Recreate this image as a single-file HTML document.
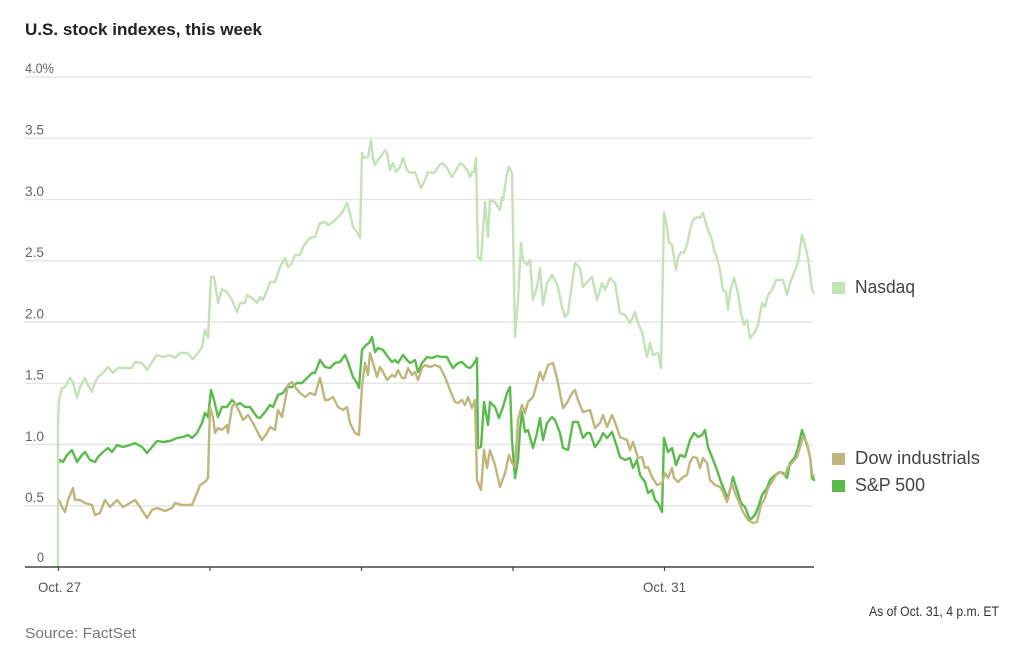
<!DOCTYPE html>
<html>
<head>
<meta charset="utf-8">
<style>
html,body{margin:0;padding:0;background:#fff;}
svg{display:block;}
text{font-family:"Liberation Sans",sans-serif;}
</style>
</head>
<body>
<svg width="1028" height="655" viewBox="0 0 1028 655" xmlns="http://www.w3.org/2000/svg">
<rect width="1028" height="655" fill="#fff"/>
<text x="25" y="35" font-size="17" font-weight="bold" fill="#222" textLength="237" lengthAdjust="spacingAndGlyphs">U.S. stock indexes, this week</text>

<g stroke="#e6e6e6" stroke-width="1.5">
<line x1="25" y1="77" x2="813" y2="77"/>
<line x1="25" y1="138.25" x2="813" y2="138.25"/>
<line x1="25" y1="199.5" x2="813" y2="199.5"/>
<line x1="25" y1="260.75" x2="813" y2="260.75"/>
<line x1="25" y1="322" x2="813" y2="322"/>
<line x1="25" y1="383.25" x2="813" y2="383.25"/>
<line x1="25" y1="444.5" x2="813" y2="444.5"/>
<line x1="25" y1="505.75" x2="813" y2="505.75"/>
</g>

<g font-size="14" fill="#666">
<text x="25" y="73" textLength="29" lengthAdjust="spacingAndGlyphs">4.0%</text>
<text x="25" y="134.5" textLength="19" lengthAdjust="spacingAndGlyphs">3.5</text>
<text x="25" y="196" textLength="19" lengthAdjust="spacingAndGlyphs">3.0</text>
<text x="25" y="257" textLength="19" lengthAdjust="spacingAndGlyphs">2.5</text>
<text x="25" y="318.5" textLength="19" lengthAdjust="spacingAndGlyphs">2.0</text>
<text x="25" y="379.5" textLength="19" lengthAdjust="spacingAndGlyphs">1.5</text>
<text x="25" y="441" textLength="19" lengthAdjust="spacingAndGlyphs">1.0</text>
<text x="25" y="502" textLength="19" lengthAdjust="spacingAndGlyphs">0.5</text>
<text x="37" y="562" textLength="7" lengthAdjust="spacingAndGlyphs">0</text>
</g>

<g fill="none" stroke-width="2.4" stroke-linejoin="round" stroke-linecap="round">
<polyline stroke="#5abb4c" points="59,462 60,460 63,462 67,455 72,450 77,462 82,455 85,452 90,460 95,462 98,457 103,452 108,448 112,452 117,445 123,447 130,445 135,443 142,447 147,453 152,447 157,441 163,442 170,441 177,438 183,437 188,435 192,438 197,433 202,423 205,413 208,417 211,390 214,400 218,417 222,407 227,407 232,400 237,405 240,403 245,407 250,407 257,417 260,418 265,412 270,405 273,407 278,395 283,393 287,387 292,387 297,383 302,383 307,378 312,373 315,373 320,360 325,367 330,368 335,363 340,362 345,355 348,362 353,377 357,383 359,388 362,350 366,345 369,343 372,337 375,352 378,348 383,350 388,357 392,362 395,360 398,363 403,355 407,360 410,363 415,360 418,372 422,363 427,357 432,358 437,356 442,357 447,357 450,363 453,368 458,363 462,362 467,367 470,368 473,365 477,358 478,448 481,447 484,402 488,425 490,402 495,407 499,418 503,407 507,393 510,387 512,440 515,478 518,460 520,430 522,412 525,432 528,430 533,448 537,433 540,418 543,440 547,423 552,417 555,420 560,433 563,448 568,450 573,422 578,422 583,438 587,433 590,433 595,447 600,440 603,433 607,438 612,432 617,447 620,457 625,460 630,458 633,468 637,460 640,475 645,482 648,493 652,490 655,500 658,503 662,512 664,438 668,452 672,448 676,465 680,455 685,457 690,440 694,433 698,437 702,435 705,430 708,447 712,457 717,470 721,482 725,492 728,498 733,477 737,490 741,503 745,507 750,520 755,515 759,505 762,495 767,488 770,480 775,475 780,472 783,473 787,478 790,463 795,457 798,448 802,430 807,445 810,457 812,478 814,480"/>
<polyline stroke="#bfb67d" points="59,500 62,507 65,512 68,500 73,488 75,500 80,500 85,503 92,505 95,515 100,513 105,500 110,507 117,500 123,507 130,503 135,500 140,507 147,518 152,510 157,508 165,511 172,508 175,503 182,505 192,505 197,493 200,485 205,482 208,478 210,407 213,417 215,433 218,428 222,430 227,425 228,433 232,407 235,403 240,413 243,420 248,415 253,423 258,433 262,440 267,433 270,427 275,430 278,410 282,417 288,385 292,382 295,387 300,393 305,397 310,393 315,395 320,378 325,400 328,400 333,397 338,407 343,410 347,407 350,423 355,433 359,435 362,387 365,363 368,375 370,353 373,363 377,377 380,367 383,372 387,380 392,375 395,377 398,370 402,378 405,378 408,368 412,375 415,372 418,380 422,368 425,365 430,367 435,365 440,367 445,377 450,390 455,402 458,403 462,400 465,405 468,397 472,408 475,400 477,480 481,490 484,450 487,468 490,450 495,465 500,487 505,473 509,455 512,463 515,467 518,420 522,405 525,413 528,402 533,397 537,383 540,372 543,380 548,365 553,363 557,378 560,393 563,408 567,403 572,393 575,390 578,400 583,412 590,410 595,428 600,423 603,415 607,427 612,415 615,422 620,437 627,440 630,450 633,442 638,458 642,457 645,468 648,467 652,477 657,485 662,483 665,473 668,478 672,468 674,478 678,482 683,477 687,475 690,462 693,457 697,458 700,468 703,458 707,463 710,480 715,485 720,487 723,492 727,502 732,483 735,493 739,502 743,512 748,520 753,523 757,522 761,505 765,498 768,488 772,482 776,475 780,472 785,475 788,467 792,463 797,457 800,447 803,437 807,443 810,457 812,473 814,477"/>
<polyline stroke="#c4e2b8" points="58,567 58,420 59,400 62,388 65,387 70,378 73,382 77,398 80,387 85,378 88,385 92,392 95,382 98,377 103,373 108,367 113,373 118,368 127,368 132,368 135,362 142,363 147,370 152,362 157,355 163,357 170,355 175,358 180,353 187,353 193,359 198,353 202,347 205,330 208,338 211,277 214,277 218,303 222,289 227,292 232,300 237,312 240,303 245,303 247,295 252,298 257,303 260,297 263,300 268,288 270,282 275,282 280,267 285,258 288,267 292,263 295,255 300,255 303,247 308,240 312,237 315,237 320,223 325,222 328,225 333,222 337,218 342,213 347,203 350,213 353,227 357,232 360,238 362,153 364,158 368,157 371,140 373,158 375,165 378,160 382,155 385,150 387,153 390,170 393,163 396,172 400,167 403,158 407,170 410,173 415,172 418,180 421,188 425,180 428,172 432,173 435,172 438,167 442,163 447,168 452,177 455,172 460,163 463,165 467,170 470,177 472,172 474,172 476,158 478,257 481,260 485,202 488,237 490,200 495,202 498,207 500,210 502,197 503,200 507,173 509,167 512,173 515,337 518,300 521,243 523,260 527,265 530,260 533,300 537,287 540,268 543,305 547,283 552,275 555,280 558,287 562,307 565,317 568,313 572,283 575,263 580,268 583,287 587,282 592,277 597,300 602,283 605,290 610,278 615,283 620,313 625,315 630,323 635,312 638,323 642,332 647,357 650,343 653,355 658,353 661,368 664,212 667,227 669,242 672,245 674,257 676,270 678,258 681,252 684,253 687,245 690,230 693,220 697,217 700,218 703,213 706,223 708,230 712,240 714,250 717,258 720,270 723,290 726,292 728,310 730,292 734,278 738,293 741,313 744,325 747,320 750,338 755,332 758,325 762,303 765,307 768,295 772,290 776,280 780,280 783,280 787,295 790,283 794,273 798,262 802,235 805,245 808,258 812,290 814,293"/>
</g>

<line x1="25" y1="567" x2="814" y2="567" stroke="#444" stroke-width="1.5"/>
<g stroke="#444" stroke-width="1.2">
<line x1="58.5" y1="567" x2="58.5" y2="571"/>
<line x1="210" y1="567" x2="210" y2="571"/>
<line x1="361.5" y1="567" x2="361.5" y2="571"/>
<line x1="513" y1="567" x2="513" y2="571"/>
<line x1="664.5" y1="567" x2="664.5" y2="571"/>
</g>

<g font-size="14" fill="#555">
<text x="38" y="592" textLength="43" lengthAdjust="spacingAndGlyphs">Oct. 27</text>
<text x="643" y="592" textLength="43" lengthAdjust="spacingAndGlyphs">Oct. 31</text>
</g>

<rect x="832" y="282" width="13" height="12" fill="#c4e2b8"/>
<text x="855" y="293" font-size="18" fill="#444" textLength="60" lengthAdjust="spacingAndGlyphs">Nasdaq</text>
<rect x="832" y="453" width="13" height="12" fill="#bfb67d"/>
<text x="855" y="464" font-size="18" fill="#444" textLength="125" lengthAdjust="spacingAndGlyphs">Dow industrials</text>
<rect x="832" y="480" width="13" height="12" fill="#5abb4c"/>
<text x="855" y="491" font-size="18" fill="#444" textLength="70" lengthAdjust="spacingAndGlyphs">S&amp;P 500</text>

<text x="869" y="616" font-size="14" fill="#333" textLength="130" lengthAdjust="spacingAndGlyphs">As of Oct. 31, 4 p.m. ET</text>
<text x="25" y="638" font-size="15" fill="#777" textLength="111" lengthAdjust="spacingAndGlyphs">Source: FactSet</text>
</svg>
</body>
</html>
